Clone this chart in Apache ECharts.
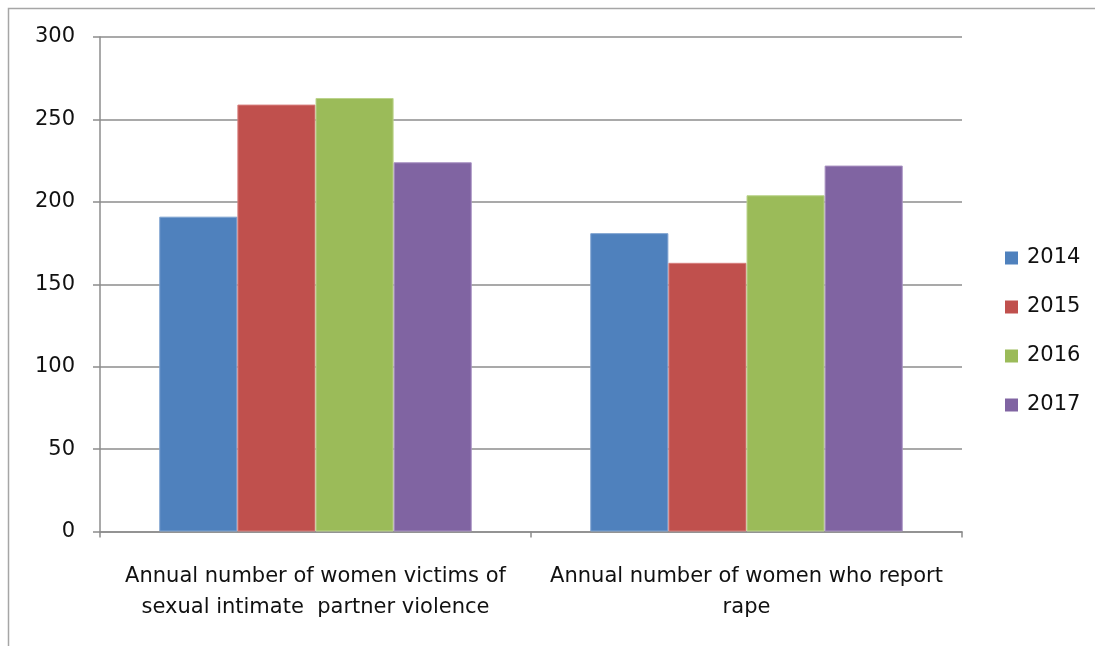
<!DOCTYPE html>
<html>
<head>
<meta charset="utf-8">
<style>
  html, body { margin: 0; padding: 0; background: #fff; }
  #chart { width: 1095px; height: 646px; }
</style>
<script src="https://cdn.jsdelivr.net/npm/echarts@6/dist/echarts.min.js"></script>
</head>
<body>
<div id="chart"></div>
<script>
// Indicator categories (two-line labels)
const categories = [
  'Annual number of women victims of\nsexual intimate  partner violence',
  'Annual number of women who report\nrape'
];
// Years shown in the legend
const years = ['2014', '2015', '2016', '2017'];
// Values per year, one entry per category
const values2014 = [191, 181];
const values2015 = [259, 163];
const values2016 = [263, 204];
const values2017 = [224, 222];
// Y-axis range
const yTicks = [0, 50, 100, 150, 200, 250, 300];

const palette = ['#4F81BD', '#C0504D', '#9BBB59', '#8064A2'];
const edge = ['#7fa3d1', '#d67f7d', '#bcd48d', '#a891c2'];
const seriesValues = [values2014, values2015, values2016, values2017];

const font = 'DejaVu Sans';
const fs = 21;
const chart = echarts.init(document.getElementById('chart'));
chart.setOption({
  animation: false,
  textStyle: { fontFamily: font },
  graphic: [{
    type: 'rect',
    shape: { x: 8.5, y: 8.5, width: 1200, height: 700 },
    style: { fill: 'none', stroke: '#a6a6a6', lineWidth: 1.5 },
    silent: true
  }],
  legend: {
    orient: 'vertical',
    left: 1005,
    top: 247.5,
    padding: 0,
    itemWidth: 13,
    itemHeight: 13,
    itemGap: 28,
    icon: 'rect',
    itemStyle: { borderWidth: 0 },
    textStyle: { fontFamily: font, fontSize: fs, color: '#111', padding: [0, 0, 0, 4] },
    data: years
  },
  grid: { left: 100, right: 133, top: 37, bottom: 114.5 },
  xAxis: {
    type: 'category',
    data: categories,
    axisLine: { lineStyle: { color: '#8c8c8c', width: 1.5 } },
    axisTick: { show: true, length: 6, lineStyle: { color: '#8c8c8c', width: 1.5 } },
    axisLabel: {
      interval: 0,
      margin: 30,
      fontFamily: font,
      fontSize: fs,
      lineHeight: 31,
      color: '#111'
    },
    splitLine: { show: false }
  },
  yAxis: {
    type: 'value',
    min: yTicks[0],
    max: yTicks[yTicks.length - 1],
    interval: 50,
    axisLine: { show: true, lineStyle: { color: '#8c8c8c', width: 1.5 } },
    axisTick: { show: true, length: 7, lineStyle: { color: '#8c8c8c', width: 1.5 } },
    axisLabel: { margin: 25, fontFamily: font, fontSize: fs, color: '#111' },
    splitLine: { show: true, lineStyle: { color: '#8c8c8c', width: 1.5 } }
  },
  series: years.map((y, i) => ({
    name: y,
    type: 'bar',
    data: seriesValues[i],
    barGap: '0%',
    barCategoryGap: '27.5%',
    itemStyle: { color: palette[i], borderColor: edge[i], borderWidth: 1 }
  }))
});
</script>
</body>
</html>
